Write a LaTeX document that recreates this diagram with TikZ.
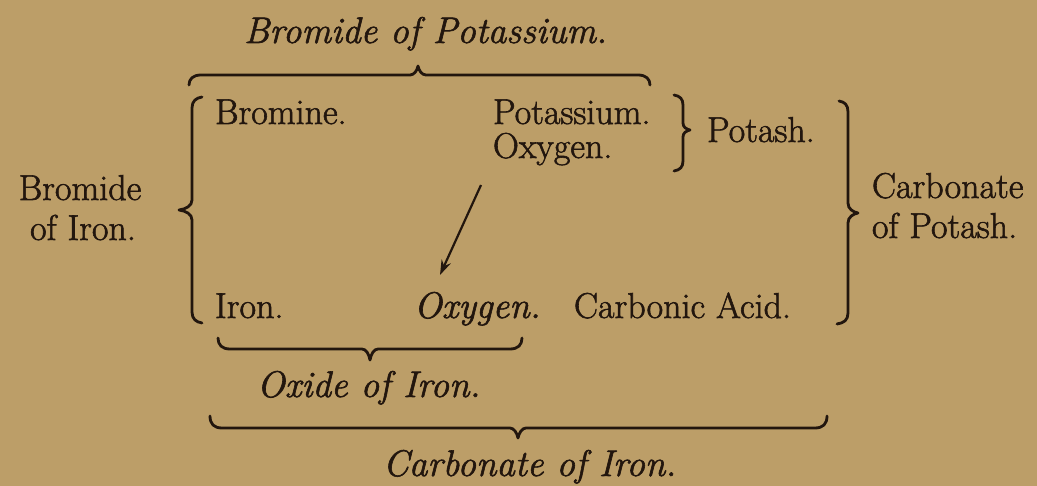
\documentclass[tikz,border=0pt]{standalone}
\usepackage{fontspec}
\newfontfamily\bookfont{Latin Modern Roman}[UprightFeatures={FakeBold=1.6},ItalicFeatures={FakeBold=1.6}]
\usetikzlibrary{arrows.meta}
\definecolor{paper}{RGB}{188,158,104}
\definecolor{ink}{RGB}{34,22,14}
\begin{document}
\begin{tikzpicture}[x=1pt,y=-1pt,
  lbl/.style={inner sep=0pt, outer sep=0pt, anchor=base west, text=ink, font=\bookfont\fontsize{36}{40}\selectfont},
  ilbl/.style={lbl, font=\bookfont\fontsize{37}{40}\selectfont\itshape},
  clbl/.style={lbl, anchor=base},
  brc/.style={draw=ink, line width=2.8pt, line cap=round, line join=round},
  arr/.style={draw=ink, line width=2.2pt, -{Stealth[length=15pt,width=10pt,inset=5pt]}}]
\fill[paper] (0,0) rectangle (1037,486);
\useasboundingbox (0,0) rectangle (1037,486);

% texts
\node[ilbl] (tBP) at (244,43) {Bromide of Potassium.};
\node[lbl] (bromine) at (215,124) {Bromine.};
\node[lbl] (potassium) at (493,124) {Potassium.};
\node[lbl] (oxyA) at (493,158) {Oxygen.};
\node[lbl] (potash) at (707,142) {Potash.};
\node[lbl] (carbA) at (872,198) {Carbonate};
\node[lbl] (carbB) at (872,238) {of Potash.};
\node[clbl] (bromA) at (80,200) {Bromide};
\node[clbl] (bromB) at (83,240) {of Iron.};
\node[lbl] (iron) at (215,318) {Iron.};
\node[ilbl] (oxyB) at (414,318) {Oxygen.};
\node[lbl] (carbacid) at (574,318) {Carbonic\hspace{0.3em}Acid.};
\node[ilbl] (oxide) at (257,397) {Oxide of Iron.};
\node[ilbl] (carbiron) at (383,476) {Carbonate of Iron.};

% top brace (Bromide of Potassium)
\draw[brc] (189,85) .. controls (189,79) and (193,75) .. (201,75) -- (410,75)
  .. controls (414,75) and (417,71) .. (418,66)
  .. controls (419,71) and (422,75) .. (426,75) -- (638,75)
  .. controls (646,75) and (650,79) .. (650,85);

% left big brace
\draw[brc] (202,97) .. controls (196,98) and (192,101) .. (192,108) -- (192,200)
  .. controls (192,206) and (186,209) .. (179,210)
  .. controls (186,211) and (192,214) .. (192,220) -- (192,312)
  .. controls (192,319) and (196,322) .. (202,323);

% small brace (Potash)
\draw[brc] (674,95) .. controls (680,96) and (683,99) .. (683,105) -- (683,123)
  .. controls (683,127) and (686,129) .. (690,130)
  .. controls (686,131) and (683,133) .. (683,137) -- (683,161)
  .. controls (683,167) and (680,170) .. (674,171);

% right big brace (Carbonate of Potash)
\draw[brc] (839,101) .. controls (845,102) and (848,105) .. (848,112) -- (848,203)
  .. controls (848,209) and (853,212) .. (858,213)
  .. controls (853,214) and (848,217) .. (848,223) -- (848,313)
  .. controls (848,320) and (844,323) .. (837,324);

% oxide brace
\draw[brc] (218,338) .. controls (218,345) and (222,349) .. (230,349) -- (362,349)
  .. controls (366,349) and (369,354) .. (370,360)
  .. controls (371,354) and (374,349) .. (378,349) -- (510,349)
  .. controls (518,349) and (522,345) .. (522,338);

% carbonate of iron brace
\draw[brc] (210,416) .. controls (210,424) and (214,428) .. (222,428) -- (510,428)
  .. controls (514,428) and (517,433) .. (518,438)
  .. controls (519,433) and (522,428) .. (526,428) -- (815,428)
  .. controls (823,428) and (827,424) .. (827,416);

% arrow
\coordinate (arrS) at (481,185);
\coordinate (arrE) at (440,275);
\draw[arr] (arrS) -- (arrE);
\end{tikzpicture}
\end{document}
